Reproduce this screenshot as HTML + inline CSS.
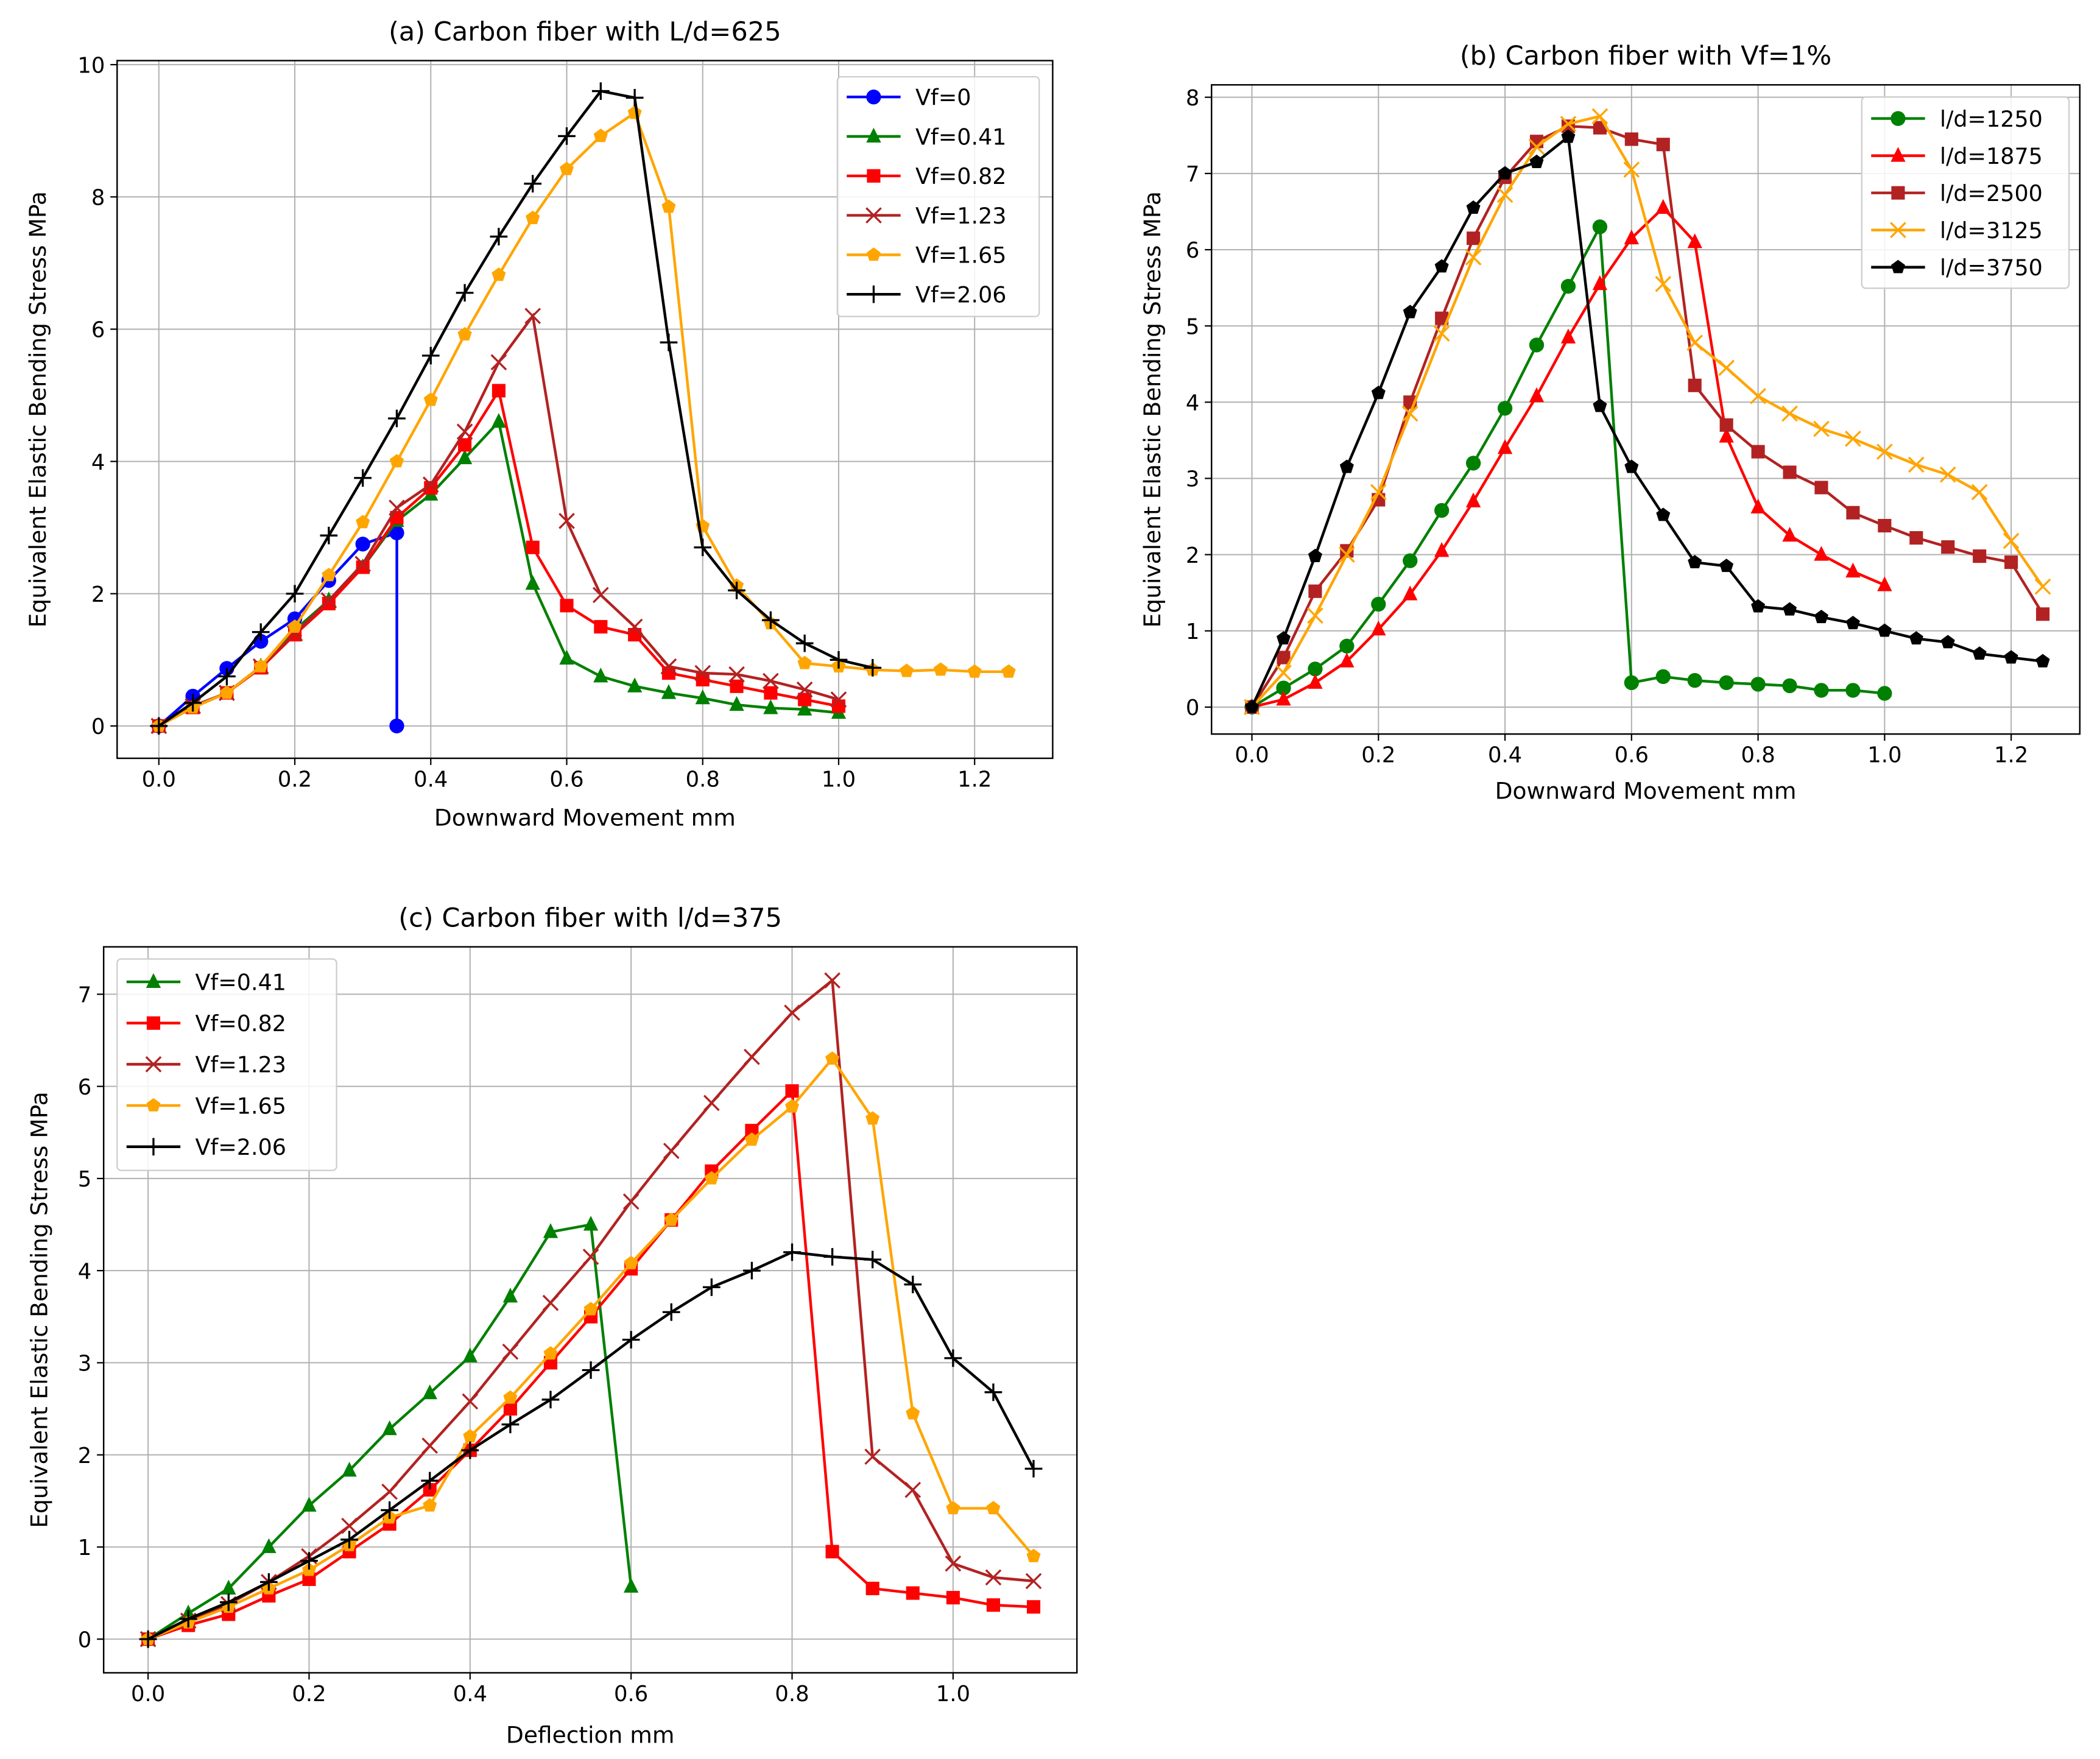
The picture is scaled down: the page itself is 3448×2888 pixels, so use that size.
<!DOCTYPE html>
<html><head><meta charset="utf-8"><style>
html,body{margin:0;padding:0;background:#fff;}
svg{display:block;font-family:"DejaVu Sans","Liberation Sans",sans-serif;}
</style></head><body>
<svg id="fig" width="3448" height="2888" viewBox="0 0 1560 1306" preserveAspectRatio="none" xmlns="http://www.w3.org/2000/svg"></svg>
<script>
// ---- Chart (a) data ----
const aNames=["Vf=0","Vf=0.41","Vf=0.82","Vf=1.23","Vf=1.65","Vf=2.06"];
const aVf0X=[0,0.05,0.1,0.15,0.2,0.25,0.3,0.35,0.35];
const aVf0=[0,0.45,0.87,1.28,1.62,2.2,2.75,2.92,0];
const aVf041=[0,0.3,0.5,0.9,1.45,1.9,2.4,3.1,3.5,4.05,4.6,2.15,1.02,0.75,0.6,0.5,0.42,0.32,0.27,0.25,0.2];
const aVf082=[0,0.28,0.5,0.88,1.38,1.85,2.4,3.15,3.6,4.25,5.07,2.7,1.82,1.5,1.38,0.8,0.7,0.6,0.5,0.4,0.3];
const aVf123=[0,0.3,0.5,0.9,1.4,1.9,2.45,3.3,3.65,4.45,5.5,6.2,3.1,1.98,1.5,0.9,0.8,0.78,0.68,0.55,0.4];
const aVf165=[0,0.28,0.5,0.9,1.5,2.28,3.08,4.0,4.93,5.92,6.82,7.68,8.42,8.92,9.27,7.85,3.02,2.12,1.55,0.95,0.9,0.85,0.83,0.85,0.82,0.82];
const aVf206=[0,0.35,0.75,1.42,2.0,2.88,3.75,4.65,5.6,6.55,7.4,8.2,8.92,9.6,9.5,5.8,2.7,2.05,1.6,1.25,1.0,0.88];
const aXTicks=[0,0.2,0.4,0.6,0.8,1.0,1.2];
const aYTicks=[0,2,4,6,8,10];
// ---- Chart (b) data ----
const bNames=["l/d=1250","l/d=1875","l/d=2500","l/d=3125","l/d=3750"];
const bLd1250=[0,0.25,0.5,0.8,1.35,1.92,2.58,3.2,3.92,4.75,5.52,6.3,0.32,0.4,0.35,0.32,0.3,0.28,0.22,0.22,0.18];
const bLd1875=[0,0.1,0.32,0.6,1.02,1.48,2.05,2.7,3.4,4.08,4.85,5.55,6.15,6.55,6.1,3.55,2.62,2.25,2.0,1.78,1.6];
const bLd2500=[0,0.65,1.52,2.05,2.72,4.0,5.1,6.15,6.95,7.42,7.62,7.6,7.45,7.38,4.22,3.7,3.35,3.08,2.88,2.55,2.38,2.22,2.1,1.98,1.9,1.22];
const bLd3125=[0,0.45,1.2,2.0,2.82,3.85,4.9,5.9,6.72,7.35,7.65,7.75,7.05,5.55,4.78,4.45,4.08,3.85,3.65,3.52,3.35,3.18,3.05,2.82,2.18,1.58];
const bLd3750=[0,0.9,1.98,3.15,4.12,5.18,5.78,6.55,7.0,7.15,7.48,3.95,3.15,2.52,1.9,1.85,1.32,1.28,1.18,1.1,1.0,0.9,0.85,0.7,0.65,0.6];
const bXTicks=[0,0.2,0.4,0.6,0.8,1.0,1.2];
const bYTicks=[0,1,2,3,4,5,6,7,8];
// ---- Chart (c) data ----
const cNames=["Vf=0.41","Vf=0.82","Vf=1.23","Vf=1.65","Vf=2.06"];
const cVf041=[0,0.28,0.55,1.0,1.45,1.83,2.28,2.67,3.07,3.72,4.42,4.5,0.57];
const cVf082=[0,0.15,0.27,0.47,0.65,0.95,1.25,1.62,2.05,2.5,3.0,3.5,4.02,4.55,5.08,5.52,5.95,0.95,0.55,0.5,0.45,0.37,0.35];
const cVf123=[0,0.2,0.38,0.62,0.9,1.23,1.6,2.1,2.58,3.12,3.65,4.15,4.75,5.3,5.82,6.32,6.8,7.15,1.98,1.62,0.82,0.67,0.63];
const cVf165=[0,0.18,0.35,0.55,0.75,1.02,1.32,1.45,2.2,2.62,3.1,3.58,4.08,4.55,5.0,5.42,5.78,6.3,5.65,2.45,1.42,1.42,0.9];
const cVf206=[0,0.22,0.4,0.62,0.85,1.08,1.4,1.72,2.05,2.33,2.6,2.92,3.25,3.55,3.82,4.0,4.2,4.15,4.12,3.85,3.05,2.68,1.85];
const cXTicks=[0,0.2,0.4,0.6,0.8,1.0];
const cYTicks=[0,1,2,3,4,5,6,7];

const NS="http://www.w3.org/2000/svg";
const svg=document.getElementById('fig');
function mk(tag,attrs,parent){const e=document.createElementNS(NS,tag);for(const k in attrs)e.setAttribute(k,attrs[k]);(parent||svg).appendChild(e);return e;}
function steps(n){return Array.from({length:n},(_,i)=>+(i*0.05).toFixed(2));}

function marker(g,type,x,y,color){
  let e;const r=5.5;
  if(type==='o'){e=mk('circle',{cx:x,cy:y,r:r,fill:color},g);}
  else if(type==='^'){e=mk('polygon',{points:`${x},${y-r-1} ${x-r},${y+r-1} ${x+r},${y+r-1}`,fill:color},g);}
  else if(type==='s'){e=mk('rect',{x:x-r+0.5,y:y-r+0.5,width:2*r-1,height:2*r-1,fill:color},g);}
  else if(type==='x'){e=mk('path',{d:`M${x-r} ${y-r}L${x+r} ${y+r}M${x-r} ${y+r}L${x+r} ${y-r}`,stroke:color,'stroke-width':1.5,fill:'none'},g);}
  else if(type==='+'){e=mk('path',{d:`M${x-r-1} ${y}L${x+r+1} ${y}M${x} ${y-r-1}L${x} ${y+r+1}`,stroke:color,'stroke-width':1.5,fill:'none'},g);}
  else if(type==='p'){let pts=[];for(let i=0;i<5;i++){const a=-Math.PI/2+i*2*Math.PI/5;pts.push((x+r*Math.cos(a)).toFixed(1)+','+(y+r*Math.sin(a)).toFixed(1));}e=mk('polygon',{points:pts.join(' '),fill:color},g);}
  
  
}

function chart(cfg){
  const g=mk('g',{});
  
  
  const sx=v=>cfg.x0+(v-cfg.xmin)*cfg.kx;
  const sy=v=>cfg.y0-v*cfg.ky;
  cfg.xt.forEach(t=>{const l=mk('line',{x1:sx(t),x2:sx(t),y1:cfg.top,y2:cfg.bot,stroke:'#b0b0b0','stroke-width':0.9},g);});
  cfg.yt.forEach(t=>{const l=mk('line',{x1:cfg.left,x2:cfg.right,y1:sy(t),y2:sy(t),stroke:'#b0b0b0','stroke-width':0.9},g);});
  cfg.series.forEach(s=>{
    const sg=mk('g',{},g);
    
    
    const xs=s.x||steps(s.y.length);
    const pts=s.y.map((v,i)=>sx(xs[i]).toFixed(1)+','+sy(v).toFixed(1)).join(' ');
    mk('polyline',{points:pts,fill:'none',stroke:s.c,'stroke-width':2},sg);
    s.y.forEach((v,i)=>marker(sg,s.m,sx(xs[i]),sy(v),s.c));
  });
  const fr=mk('rect',{x:cfg.left,y:cfg.top,width:cfg.right-cfg.left,height:cfg.bot-cfg.top,fill:'none',stroke:'#000','stroke-width':1.1},g);
  
  cfg.xt.forEach(t=>{mk('line',{x1:sx(t),x2:sx(t),y1:cfg.bot,y2:cfg.bot+5,stroke:'#000'},g);
    const tx=mk('text',{x:sx(t),y:cfg.bot+21,'text-anchor':'middle','font-size':16},g);tx.textContent=t.toFixed(1);
    });
  cfg.yt.forEach(t=>{mk('line',{x1:cfg.left-5,x2:cfg.left,y1:sy(t),y2:sy(t),stroke:'#000'},g);
    const tx=mk('text',{x:cfg.left-9,y:sy(t)+6,'text-anchor':'end','font-size':16},g);tx.textContent=String(t);
    });
  const ti=mk('text',{x:(cfg.left+cfg.right)/2,y:cfg.top-15,'text-anchor':'middle','font-size':19.5},g);ti.textContent=cfg.title;
  
  const xl=mk('text',{x:(cfg.left+cfg.right)/2,y:cfg.xly,'text-anchor':'middle','font-size':17},g);xl.textContent=cfg.xlabel;
  
  const ym=(cfg.top+cfg.bot)/2;
  const yl=mk('text',{x:cfg.ylx,y:ym,'text-anchor':'middle','font-size':17,transform:`rotate(-90 ${cfg.ylx} ${ym})`},g);yl.textContent='Equivalent Elastic Bending Stress MPa';
  
  const L=cfg.leg;
  const lg=mk('g',{},g);
  
  mk('rect',{x:L.x,y:L.y,width:L.w,height:L.h,rx:3,fill:'#fff','fill-opacity':0.85,stroke:'#ccc'},lg);
  cfg.series.forEach((s,i)=>{
    const yy=L.y+L.first+i*L.dy;
    const eg=mk('g',{},lg);
    
    mk('line',{x1:L.x+7,x2:L.x+47,y1:yy,y2:yy,stroke:s.c,'stroke-width':2},eg);
    marker(eg,s.m,L.x+27,yy,s.c);
    const t=mk('text',{x:L.x+58,y:yy+6,'font-size':16.5},eg);t.textContent=s.name;
  });
}

const C={blue:'#0000ff',green:'#008000',red:'#ff0000',brown:'#b22222',orange:'#ffa500',black:'#000000'};

chart({id:'chart-a',title:'(a) Carbon fiber with L/d=625',xlabel:'Downward Movement mm',
  left:87,right:782,top:45,bot:563,x0:118,xmin:0,kx:101/0.2,y0:539,ky:49.1,xt:aXTicks,yt:aYTicks,xly:613,ylx:34,
  leg:{x:622,y:57,w:150,h:178,first:15,dy:29.3},
  series:[
    {name:aNames[0],y:aVf0,x:aVf0X,c:C.blue,m:'o'},
    {name:aNames[1],y:aVf041,c:C.green,m:'^'},
    {name:aNames[2],y:aVf082,c:C.red,m:'s'},
    {name:aNames[3],y:aVf123,c:C.brown,m:'x'},
    {name:aNames[4],y:aVf165,c:C.orange,m:'p'},
    {name:aNames[5],y:aVf206,c:C.black,m:'+'}]});

chart({id:'chart-b',title:'(b) Carbon fiber with Vf=1%',xlabel:'Downward Movement mm',
  left:900,right:1545,top:63,bot:545,x0:930,xmin:0,kx:94/0.2,y0:525,ky:56.6,xt:bXTicks,yt:bYTicks,xly:593,ylx:862,
  leg:{x:1383,y:72,w:154,h:142,first:16,dy:27.6},
  series:[
    {name:bNames[0],y:bLd1250,c:C.green,m:'o'},
    {name:bNames[1],y:bLd1875,c:C.red,m:'^'},
    {name:bNames[2],y:bLd2500,c:C.brown,m:'s'},
    {name:bNames[3],y:bLd3125,c:C.orange,m:'x'},
    {name:bNames[4],y:bLd3750,c:C.black,m:'p'}]});

chart({id:'chart-c',title:'(c) Carbon fiber with l/d=375',xlabel:'Deflection mm',
  left:77,right:800,top:703,bot:1242,x0:110,xmin:0,kx:119.6/0.2,y0:1217,ky:68.4,xt:cXTicks,yt:cYTicks,xly:1294,ylx:35,
  leg:{x:87,y:712,w:163,h:157,first:17,dy:30.6},
  series:[
    {name:cNames[0],y:cVf041,c:C.green,m:'^'},
    {name:cNames[1],y:cVf082,c:C.red,m:'s'},
    {name:cNames[2],y:cVf123,c:C.brown,m:'x'},
    {name:cNames[3],y:cVf165,c:C.orange,m:'p'},
    {name:cNames[4],y:cVf206,c:C.black,m:'+'}]});
</script>
</body></html>
